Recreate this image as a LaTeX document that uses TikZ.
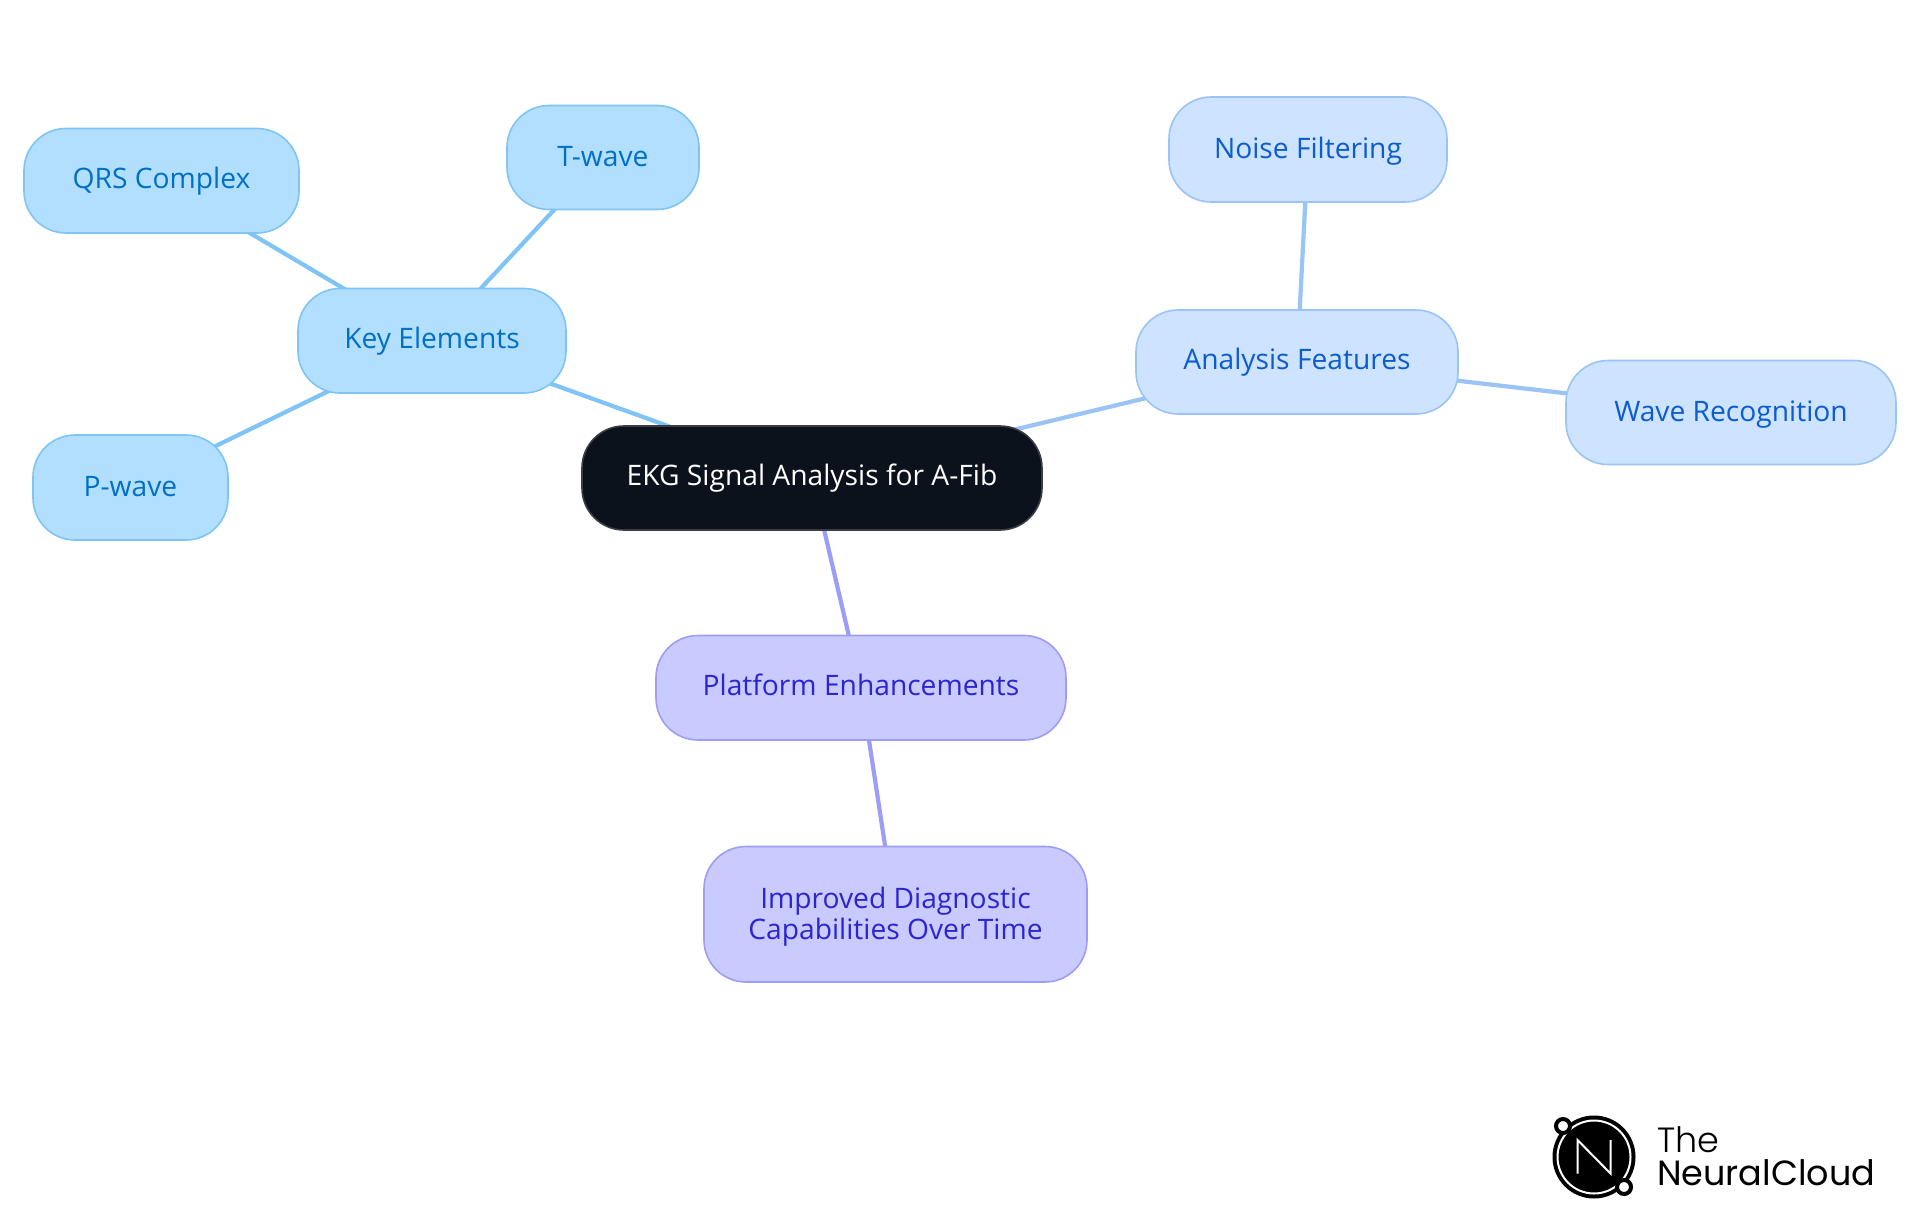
\documentclass[tikz,border=0pt]{standalone}
\usepackage{fontspec}
\setmainfont{Open Sans}
\newfontfamily\logofont{Poppins}
\newfontfamily\logolight{Poppins Light}
\usetikzlibrary{backgrounds}
\definecolor{blueF}{HTML}{B3DFFF}\definecolor{blueD}{HTML}{7FC4F5}\definecolor{blueT}{HTML}{0070C6}
\definecolor{skyF}{HTML}{CDE3FF}\definecolor{skyD}{HTML}{99C4F5}\definecolor{skyT}{HTML}{0B5CCF}
\definecolor{violF}{HTML}{C9CAFF}\definecolor{violD}{HTML}{9C9EF5}\definecolor{violT}{HTML}{2C24CF}
\definecolor{coreF}{HTML}{0B121B}\definecolor{coreD}{HTML}{3A3E44}
\tikzset{
 x=1pt,y=-1pt,
 mm/.style={draw,rounded corners=42pt,line width=1.6pt,align=center,inner sep=0pt,font=\fontsize{28.2}{31}\selectfont},
 bluebox/.style={mm,fill=blueF,draw=blueD,text=blueT},
 skybox/.style={mm,fill=skyF,draw=skyD,text=skyT},
 violbox/.style={mm,fill=violF,draw=violD,text=violT},
 corebox/.style={mm,fill=coreF,draw=coreD,text=white},
 link/.style={line width=4.2pt},
 logotext/.style={inner sep=0pt,anchor=base west,font=\logofont\fontsize{35}{35}\selectfont}
}
\newcommand{\st}{\rule[-6pt]{0pt}{30pt}}
\newcommand{\stm}{\rule[-6pt]{0pt}{27.5pt}}
\newcommand{\bx}[7]{\node[#1,minimum width=#4pt-#3pt,minimum height=#6pt-#5pt] (#2) at ({(#3+#4)/2},{(#5+#6)/2}) {#7};}
\begin{document}
\begin{tikzpicture}
\useasboundingbox (0,0) rectangle (1920,1215);
\bx{corebox}{core}{582}{1042}{426}{530}{\rule[-6pt]{0pt}{24.5pt}EKG Signal Analysis for A-Fib}
\bx{bluebox}{key}{298}{566}{288.5}{393}{\stm Key Elements}
\bx{bluebox}{twave}{507}{699}{105.5}{209.5}{\st T-wave}
\bx{bluebox}{qrs}{24}{299}{128.5}{233}{\stm QRS Complex}
\bx{bluebox}{pwave}{33}{228}{435}{540}{\st P-wave}
\bx{skybox}{feat}{1136}{1458}{310}{414}{\stm Analysis Features}
\bx{skybox}{noise}{1169}{1447}{97}{202}{\st Noise Filtering}
\bx{skybox}{wave}{1566}{1896}{360.5}{464.5}{\st Wave Recognition}
\bx{violbox}{plat}{656}{1066}{635.5}{740}{\stm Platform Enhancements}
\bx{violbox}{impr}{704}{1087}{846.5}{982}{\rule{0pt}{26pt}Improved Diagnostic\\\rule[-6pt]{0pt}{22pt}Capabilities Over Time}
\begin{pgfonlayer}{background}
\fill[white] (0,0) rectangle (1920,1215);
\draw[link,blueD] (core.center) -- (key.center);
\draw[link,blueD] (key.center) -- (twave.center);
\draw[link,blueD] (key.center) -- (qrs.center);
\draw[link,blueD] (key.center) -- (pwave.center);
\draw[link,skyD] (core.center) -- (feat.center);
\draw[link,skyD] (feat.center) -- (noise.center);
\draw[link,skyD] (feat.center) -- (wave.center);
\draw[link,violD] (core.center) -- (plat.center);
\draw[link,violD] (plat.center) -- (impr.center);
\end{pgfonlayer}
% logo
\fill[black] (1594,1157) circle (41.5);
\draw[white,line width=2pt] (1594,1157) circle (36.5);
\draw[white,line width=2pt,line join=miter] (1577.5,1173.5) -- (1577.5,1140) -- (1610.5,1173.5) -- (1610.5,1140);
\draw[black,fill=white,line width=4pt] (1563,1126) circle (7);
\draw[black,fill=white,line width=4pt] (1624,1187) circle (7);
\node[logotext,font=\logolight\fontsize{35}{35}\selectfont] (the) at (1657,1152) {The};
\node[logotext] (nc) at (1657,1185) {NeuralCloud};
\end{tikzpicture}
\end{document}
